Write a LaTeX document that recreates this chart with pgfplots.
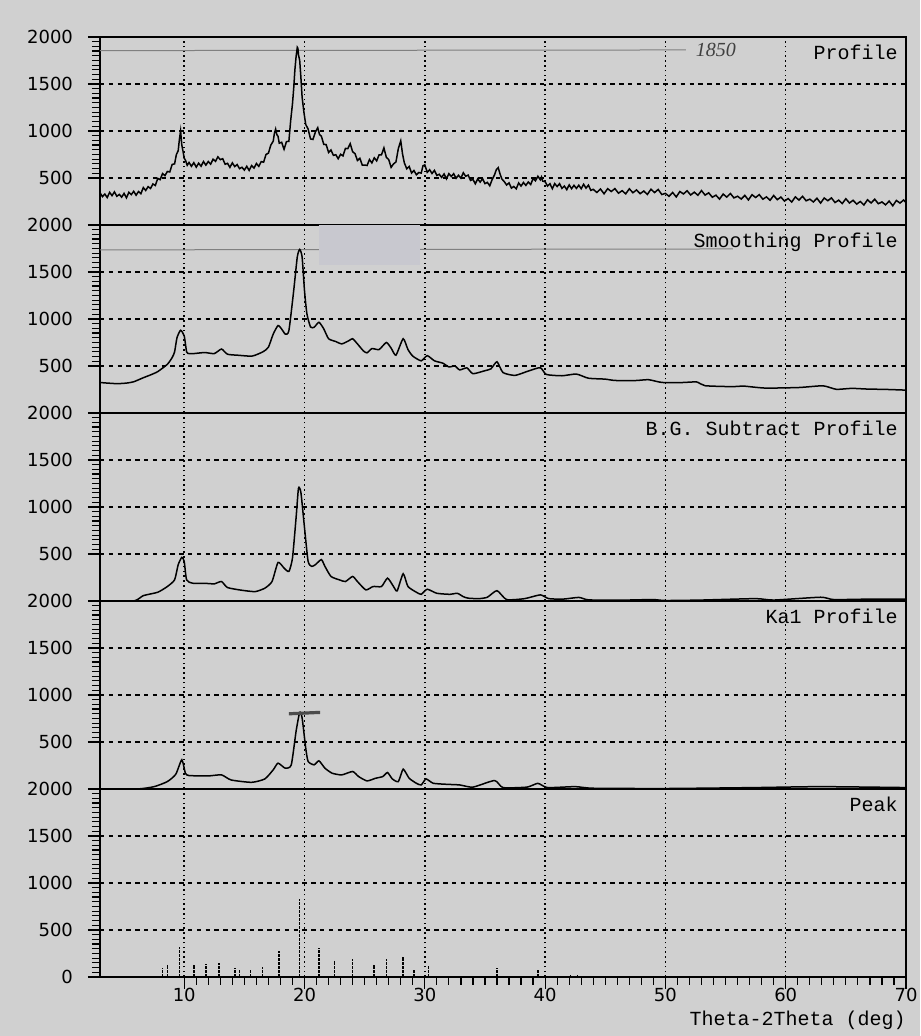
\documentclass[border=0pt]{standalone}
\usepackage{fontspec}
\setmainfont{DejaVu Sans}
\newfontfamily\mono{Liberation Mono}
\newfontfamily\hand{Liberation Serif}
\usepackage{pgfplots}
\pgfplotsset{compat=1.18}
\definecolor{paper}{HTML}{D0D0D0}
\definecolor{erase}{RGB}{200,200,207}
\definecolor{pen}{HTML}{808080}
\pgfplotsset{
  panel/.style={
    scale only axis, width=403pt, height=94pt,
    anchor=south west,
    xmin=3, xmax=70, ymin=0, ymax=2000,
    xtick={10,20,...,70}, ytick={500,1000,1500,2000},
    minor y tick num=9,
    xmajorgrids, ymajorgrids,
    x grid style={black, line width=0.75pt, dash pattern=on 0.8pt off 1.6pt},
    y grid style={black, line width=0.6pt, dash pattern=on 2.2pt off 2.2pt},
    axis line style={black, line width=0.9pt},
    tick align=outside,
    major tick length=6pt, minor tick length=4pt,
    tick style={black, line width=0.6pt},
    ytick pos=left, xtick pos=bottom,
    /pgf/number format/assume math mode=true,
    /pgf/number format/1000 sep={},
    yticklabel style={font=\fontsize{9}{10}\selectfont, xshift=-4pt},
    xticklabel style={font=\fontsize{9}{10}\selectfont, yshift=4pt},
    clip mode=individual,
  },
  upper/.style={panel, xticklabels={}, xmajorticks=false},
}
\tikzset{
  lbl/.style={anchor=north east, font=\mono\fontsize{10}{11}\selectfont, inner sep=0pt, xshift=-4pt, yshift=-4pt},
}
\begin{document}
\begin{tikzpicture}
\fill[paper] (0,0) rectangle (460pt,518pt);
\useasboundingbox (0,0) rectangle (460pt,518pt);

% ---------- Profile ----------
\begin{axis}[upper, at={(50pt,405.5pt)}]
\addplot[pen, line width=0.5pt] coordinates {(3,1855)(51.7,1862)};
\addplot[black, line width=0.75pt] coordinates {
(3.0,343)(3.2,302)(3.4,329)(3.6,292)(3.8,347)(4.0,312)(4.2,352)(4.4,305)(4.6,325)(4.8,296)(5.0,336)(5.2,289)(5.4,348)(5.6,323)(5.8,358)(6.0,317)(6.2,356)(6.4,333)(6.6,398)(6.8,367)(7.0,408)(7.2,388)(7.4,436)(7.6,420)(7.8,495)(8.0,482)(8.2,547)(8.4,525)(8.6,569)(8.8,564)(9.0,644)(9.2,650)(9.35,750)(9.5,790)(9.6,910)(9.7,1000)(9.8,850)(9.9,785)(10.0,710)(10.1,690)(10.25,635)(10.4,665)(10.6,624)(10.8,663)(11.0,615)(11.2,658)(11.4,625)(11.6,675)(11.8,637)(12.0,675)(12.2,647)(12.4,700)(12.6,677)(12.8,725)(13.0,695)(13.2,705)(13.4,646)(13.6,656)(13.8,613)(14.0,661)(14.2,621)(14.4,643)(14.6,599)(14.8,614)(15.0,584)(15.2,624)(15.4,580)(15.6,632)(15.8,605)(16.0,654)(16.2,624)(16.4,674)(16.6,668)(16.8,750)(17.0,764)(17.2,850)(17.4,892)(17.5,977)(17.6,1020)(17.7,962)(17.8,943)(17.9,870)(18.1,880)(18.3,805)(18.5,887)(18.7,890)(18.85,1110)(19.0,1290)(19.1,1450)(19.2,1650)(19.3,1790)(19.4,1890)(19.45,1880)(19.5,1810)(19.6,1750)(19.7,1570)(19.8,1360)(19.95,1200)(20.1,1070)(20.3,1020)(20.5,915)(20.7,910)(20.9,988)(21.1,1035)(21.25,962)(21.4,945)(21.6,858)(21.8,855)(22.0,772)(22.2,798)(22.4,741)(22.6,747)(22.8,705)(23.0,752)(23.2,735)(23.4,814)(23.6,813)(23.8,865)(24.0,779)(24.2,759)(24.4,686)(24.6,710)(24.8,638)(25.0,638)(25.2,633)(25.4,696)(25.6,660)(25.8,715)(26.0,682)(26.2,746)(26.4,747)(26.6,820)(26.8,720)(27.0,696)(27.2,613)(27.4,650)(27.6,670)(27.8,813)(28.0,895)(28.15,754)(28.3,660)(28.5,598)(28.7,623)(28.9,553)(29.1,579)(29.3,534)(29.5,558)(29.7,552)(29.85,630)(30.0,640)(30.2,560)(30.4,588)(30.6,548)(30.8,581)(31.0,527)(31.2,539)(31.4,506)(31.6,543)(31.8,491)(32.0,546)(32.2,516)(32.4,546)(32.6,497)(32.8,529)(33.0,498)(33.2,556)(33.4,518)(33.6,531)(33.8,474)(34.0,485)(34.2,438)(34.4,491)(34.6,456)(34.8,493)(35.0,440)(35.2,453)(35.4,417)(35.6,484)(35.8,535)(35.95,590)(36.1,610)(36.25,545)(36.4,490)(36.6,462)(36.8,425)(37.0,448)(37.2,392)(37.4,410)(37.6,385)(37.8,447)(38.0,414)(38.2,452)(38.4,421)(38.6,457)(38.8,430)(39.0,494)(39.2,470)(39.4,519)(39.6,481)(39.7,510)(39.8,466)(40.0,461)(40.2,414)(40.4,439)(40.6,386)(40.8,440)(41.0,409)(41.2,439)(41.4,389)(41.6,414)(41.8,376)(42.0,427)(42.2,386)(42.4,422)(42.6,389)(42.8,423)(43.0,386)(43.2,433)(43.4,392)(43.6,424)(43.8,368)(44.0,379)(44.3,346)(44.6,383)(44.9,332)(45.2,386)(45.5,356)(45.8,387)(46.1,338)(46.4,365)(46.7,331)(47.0,385)(47.3,343)(47.6,373)(47.9,333)(48.2,361)(48.5,325)(48.8,380)(49.1,345)(49.4,378)(49.7,324)(50.0,336)(50.3,305)(50.6,346)(50.9,298)(51.2,356)(51.5,330)(51.8,364)(52.1,319)(52.4,349)(52.7,316)(53.0,366)(53.3,318)(53.6,342)(53.9,295)(54.2,317)(54.5,275)(54.8,329)(55.1,296)(55.4,335)(55.7,288)(56.0,306)(56.3,276)(56.6,315)(56.9,266)(57.2,322)(57.5,292)(57.8,323)(58.1,274)(58.4,299)(58.7,263)(59.0,314)(59.3,269)(59.6,297)(59.9,254)(60.2,281)(60.5,244)(60.8,299)(61.1,265)(61.4,305)(61.7,257)(62.0,275)(62.3,245)(62.6,284)(62.9,233)(63.2,287)(63.5,258)(63.8,288)(64.1,239)(64.4,264)(64.7,228)(65.0,279)(65.3,234)(65.6,263)(65.9,222)(66.2,250)(66.5,213)(66.8,268)(67.1,234)(67.4,274)(67.7,226)(68.0,245)(68.3,214)(68.6,254)(68.9,204)(69.2,261)(69.5,233)(69.8,266)(70.0,238)
};
\node[font=\hand\itshape\fontsize{10}{11}\selectfont, text=black!75] at (axis cs:54.2,1860) {1850};
\node[lbl] at (rel axis cs:1,1) {Profile};
\end{axis}

% ---------- Smoothing Profile ----------
\begin{axis}[upper, at={(50pt,311.5pt)}]
\addplot[pen, line width=0.5pt] coordinates {(3,1735)(55.6,1745)};
\addplot[draw=none, fill=erase] coordinates {(21.2,1575)(29.6,1575)(29.6,1995)(21.2,1995)} -- cycle;
\addplot[black, line width=0.75pt, smooth, tension=0.35] coordinates {
(3.0,325)(3.3,321)(4.4,312)(5.2,318)(5.8,332)(6.6,375)(7.2,405)(7.8,440)(8.6,518)(9.0,590)(9.2,650)(9.4,800)(9.7,880)(10.0,820)(10.2,650)(10.4,632)(10.8,632)(11.7,643)(12.5,632)(13.1,680)(13.6,625)(14.5,614)(15.6,604)(16.1,625)(16.6,655)(17.0,700)(17.4,840)(17.8,930)(18.1,893)(18.4,840)(18.7,875)(19.1,1300)(19.4,1660)(19.6,1740)(19.8,1660)(20.0,1300)(20.2,1055)(20.5,915)(20.8,912)(21.2,965)(21.6,895)(22.0,790)(22.6,760)(23.1,735)(23.7,770)(24.0,790)(24.4,735)(24.9,660)(25.2,640)(25.6,685)(26.2,675)(26.8,750)(27.2,690)(27.6,615)(28.2,790)(28.6,675)(29.0,605)(29.7,555)(30.2,610)(30.8,555)(31.5,530)(32.0,490)(32.5,500)(32.9,458)(33.5,480)(34.0,418)(35.0,450)(35.5,470)(36.0,545)(36.5,430)(37.5,400)(38.6,446)(39.6,482)(40.1,410)(41.4,396)(42.6,414)(43.6,370)(45.0,360)(45.8,346)(47.5,345)(48.6,354)(49.7,325)(51.4,324)(52.6,330)(53.3,290)(55.6,280)(56.5,286)(58.3,265)(61.1,271)(63.1,289)(64.2,252)(65.5,262)(66.7,255)(68.5,250)(70.0,243)
};
\node[lbl] at (rel axis cs:1,1) {Smoothing Profile};
\end{axis}

% ---------- B.G. Subtract Profile ----------
\begin{axis}[upper, at={(50pt,217.5pt)}]
\addplot[black, line width=0.75pt, smooth, tension=0.35] coordinates {
(3.0,0)(5.8,0)(6.6,57)(7.8,93)(8.6,154)(9.2,225)(9.5,386)(9.8,464)(10.0,421)(10.2,225)(10.7,189)(12.0,186)(12.5,182)(13.1,207)(13.6,143)(14.8,114)(15.9,100)(16.7,136)(17.3,207)(17.8,410)(18.3,350)(18.7,314)(19.0,457)(19.3,886)(19.5,1200)(19.7,1154)(20.0,779)(20.3,421)(20.6,368)(20.9,386)(21.4,440)(21.7,368)(22.2,261)(22.9,225)(23.4,207)(24.0,261)(24.4,207)(25.1,118)(25.7,154)(26.4,154)(26.9,243)(27.4,154)(27.7,107)(28.2,290)(28.6,154)(29.3,93)(29.7,71)(30.2,125)(31.0,82)(32.1,71)(32.7,82)(33.2,46)(33.6,30)(34.5,25)(35.2,40)(36.0,110)(36.8,15)(38.3,25)(39.6,65)(40.3,25)(41.5,20)(42.8,38)(43.6,12)(46.0,8)(48.9,15)(50.0,5)(53.0,10)(57.5,25)(59.0,10)(62.9,40)(64.0,15)(67.0,20)(70.0,20)
};
\node[lbl] at (rel axis cs:1,1) {B.G. Subtract Profile};
\end{axis}

% ---------- Ka1 Profile ----------
\begin{axis}[upper, at={(50pt,123.5pt)}]
\addplot[black, line width=0.75pt, smooth, tension=0.35] coordinates {
(3.0,0)(6.1,0)(7.5,25)(8.6,79)(9.3,157)(9.8,311)(10.1,168)(10.4,143)(12.0,139)(13.1,150)(13.9,96)(15.6,71)(16.7,107)(17.4,204)(17.8,275)(18.4,221)(18.9,257)(19.3,614)(19.6,815)(19.8,757)(20.1,436)(20.3,293)(20.8,257)(21.2,300)(21.7,221)(22.3,168)(23.1,150)(24.0,186)(24.5,132)(25.2,86)(25.9,114)(26.5,132)(26.9,175)(27.3,107)(27.8,79)(28.2,211)(28.7,114)(29.3,61)(29.7,43)(30.1,107)(30.7,61)(31.8,50)(32.9,43)(34.0,20)(35.8,90)(36.5,15)(38.5,20)(39.4,60)(40.2,15)(42.5,25)(44.0,8)(50.0,5)(57.5,15)(62.9,25)(70.0,15)
};
\addplot[black!70, line width=1.6pt] coordinates {(18.7,800)(21.3,815)};
\node[lbl] at (rel axis cs:1,1) {Ka1 Profile};
\end{axis}

% ---------- Peak ----------
\begin{axis}[panel, at={(50pt,29.5pt)}, ytick={0,500,1000,1500,2000}, minor x tick num=9]
\addplot[ycomb, black, line width=0.8pt, dash pattern=on 1.5pt off 0.5pt] coordinates {
(8.2,95)(8.6,130)(9.6,323)(10.8,130)(11.8,140)(12.9,147)(14.2,95)(14.6,84)(15.5,77)(16.5,105)(17.9,281)(19.6,832)(21.2,305)(22.5,172)(24.0,190)(25.8,130)(26.8,190)(28.2,218)(29.1,77)(30.3,112)(36.0,95)(39.4,70)(42.1,20)(42.7,25)
};
\node[lbl] at (rel axis cs:1,1) {Peak};
\node[anchor=east, inner sep=0pt, font=\mono\fontsize{10}{11}\selectfont] at ([yshift=-21.5pt]rel axis cs:1,0) {Theta-2Theta (deg)};
\end{axis}
\end{tikzpicture}
\end{document}
